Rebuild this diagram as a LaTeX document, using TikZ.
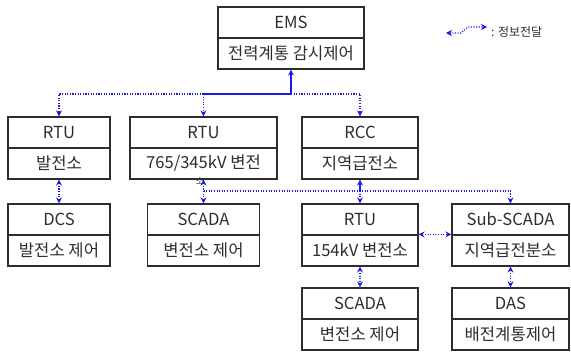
\documentclass[tikz,border=0pt]{standalone}
\usepackage{fontspec}
\setmainfont{Noto Sans CJK KR}
\usetikzlibrary{arrows.meta}
\definecolor{linkblue}{RGB}{25,25,235}
\definecolor{boxgray}{RGB}{45,45,45}
\tikzstyle{unit}=[draw=boxgray, line width=1.2pt, inner sep=0, text=boxgray, font=\fontsize{16.6}{18}\selectfont, minimum height=31]
\tikzstyle{link}=[draw=linkblue, line width=1.1pt, dash pattern=on 1.1pt off 1.5pt, arrows={-Stealth[length=6pt, width=6pt]}]
\tikzstyle{both link}=[link, arrows={Stealth[length=6pt, width=6pt]-Stealth[length=6pt, width=6pt]}]
\tikzstyle{solid link}=[link, solid, line width=1.3pt]
\tikzstyle{note}=[inner sep=0, text=boxgray]

\begin{document}
\begin{tikzpicture}[x=1pt, y=-1pt]
      \useasboundingbox (0, 0) rectangle (571, 353);

      \node[unit, minimum width=146] (ems) at (291, 22.5) {EMS};
      \node[unit, minimum width=146] (ems_sub) at (291, 53.5) {전력계통 감시제어};

      \node[unit, minimum width=102] (rtu_gen) at (59, 132.5) {RTU};
      \node[unit, minimum width=102] (rtu_gen_sub) at (59, 163.5) {발전소};
      \node[unit, minimum width=147] (rtu_ehv) at (203.5, 132.5) {RTU};
      \node[unit, minimum width=147] (rtu_ehv_sub) at (203.5, 163.5) {765/345kV 변전};
      \node[unit, minimum width=116] (rcc) at (360, 132.5) {RCC};
      \node[unit, minimum width=116] (rcc_sub) at (360, 163.5) {지역급전소};

      \node[unit, minimum width=102] (dcs) at (59, 219.5) {DCS};
      \node[unit, minimum width=102] (dcs_sub) at (59, 250.5) {발전소 제어};
      \node[unit, minimum width=112] (scada_ehv) at (203.5, 219.5) {SCADA};
      \node[unit, minimum width=112] (scada_ehv_sub) at (203.5, 250.5) {변전소 제어};
      \node[unit, minimum width=116] (rtu_hv) at (360, 219.5) {RTU};
      \node[unit, minimum width=116] (rtu_hv_sub) at (360, 250.5) {154kV 변전소};
      \node[unit, minimum width=117] (subscada) at (510.5, 219.5) {Sub-SCADA};
      \node[unit, minimum width=117] (subscada_sub) at (510.5, 250.5) {지역급전분소};

      \node[unit, minimum width=116] (scada_hv) at (360, 303.5) {SCADA};
      \node[unit, minimum width=116] (scada_hv_sub) at (360, 334.5) {변전소 제어};
      \node[unit, minimum width=117] (das) at (510.5, 303.5) {DAS};
      \node[unit, minimum width=117] (das_sub) at (510.5, 334.5) {배전계통제어};

      \node[note, font=\fontsize{9}{10}\selectfont] (ehv_overflow) at (200, 181.5) {소};

      \coordinate (legend_left) at (446, 33);
      \coordinate (legend_right) at (487, 27);
      \node[note, anchor=west, font=\fontsize{12}{13}\selectfont] (legend_text) at (491, 32) {: 정보전달};

      \coordinate (upper_bus) at (0, 94);
      \coordinate (lower_bus) at (0, 191);

      \draw[solid link] (rtu_ehv |- upper_bus) -- (ems_sub |- upper_bus) -- (ems_sub.south);
      \draw[link] (ems_sub |- upper_bus) -- (rcc |- upper_bus) -- (rcc.north);
      \draw[link] (rtu_ehv |- upper_bus) -- (rtu_gen |- upper_bus) -- (rtu_gen.north);
      \draw[link] (rtu_ehv |- upper_bus) -- (rtu_ehv.north);

      \draw[both link] (rtu_gen_sub.south) -- (dcs.north);
      \draw[both link] (rtu_ehv_sub.south) -- (scada_ehv.north);
      \draw[link] (rtu_ehv |- lower_bus) -- (subscada |- lower_bus) -- (subscada.north);
      \draw[solid link] (rcc |- lower_bus) -- (rcc_sub.south);
      \draw[link] (rcc |- lower_bus) -- (rtu_hv.north);
      \draw[both link] (rtu_hv_sub.north east) -- (subscada_sub.north west);
      \draw[both link] (rtu_hv_sub.south) -- (scada_hv.north);
      \draw[both link] (subscada_sub.south) -- (das.north);

      \draw[both link] (legend_left) -- ++(15, 0) -- ++(7, -6) -- (legend_right);
    \end{tikzpicture}
\end{document}
